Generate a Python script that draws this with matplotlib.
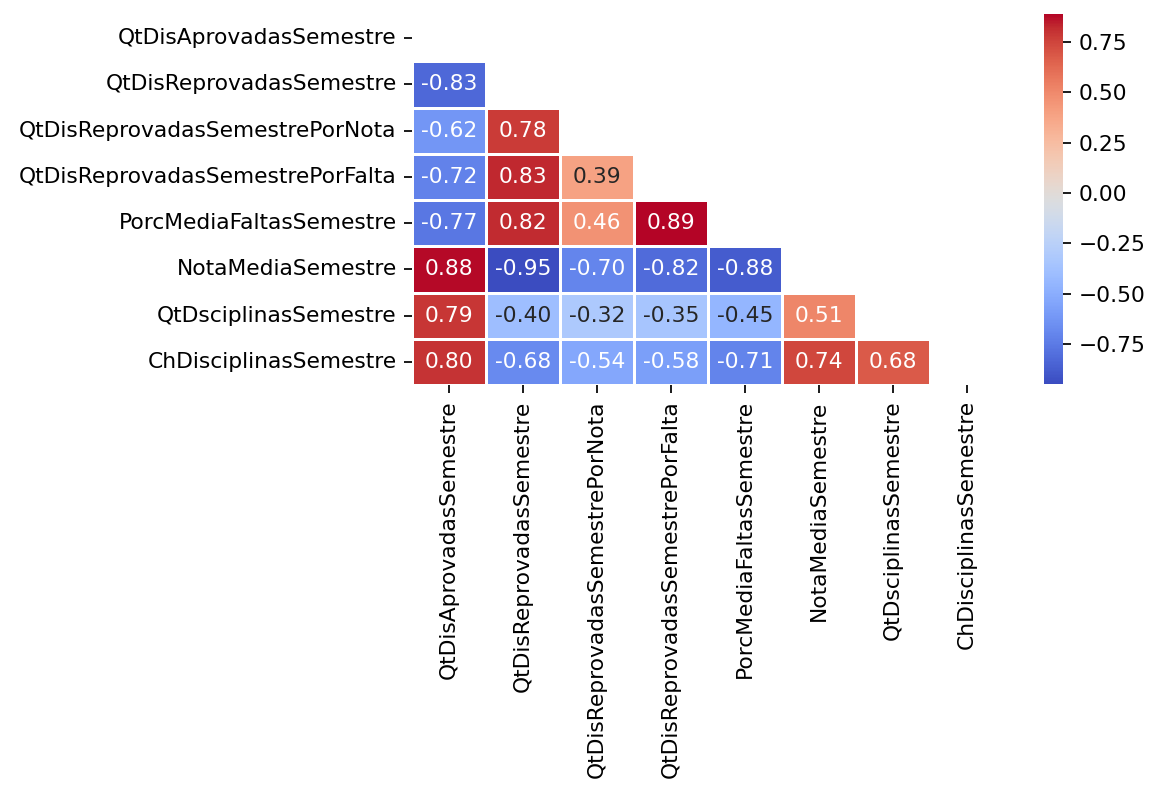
import numpy as np
import pandas as pd
import seaborn as sns
import matplotlib.pyplot as plt

cols = ['QtDisAprovadasSemestre', 'QtDisReprovadasSemestre',
        'QtDisReprovadasSemestrePorNota', 'QtDisReprovadasSemestrePorFalta',
        'PorcMediaFaltasSemestre', 'NotaMediaSemestre',
        'QtDsciplinasSemestre', 'ChDisciplinasSemestre']

# lower triangle of the correlation matrix, row by row
row1 = [-0.83]
row2 = [-0.62, 0.78]
row3 = [-0.72, 0.83, 0.39]
row4 = [-0.77, 0.82, 0.46, 0.89]
row5 = [0.88, -0.95, -0.70, -0.82, -0.88]
row6 = [0.79, -0.40, -0.32, -0.35, -0.45, 0.51]
row7 = [0.80, -0.68, -0.54, -0.58, -0.71, 0.74, 0.68]

n = len(cols)
corr = np.eye(n)
for i, r in enumerate([row1, row2, row3, row4, row5, row6, row7], start=1):
    for j, v in enumerate(r):
        corr[i, j] = v
        corr[j, i] = v
corr = pd.DataFrame(corr, index=cols, columns=cols)
mask = np.triu(np.ones_like(corr, dtype=bool))

dpi = 157
fig = plt.figure(figsize=(1152 / dpi, 785 / dpi), dpi=dpi)
ax = fig.add_axes([412 / 1152, 1 - 385 / 785, 592 / 1152, 370 / 785])
cax = fig.add_axes([1044 / 1152, 1 - 384 / 785, 19 / 1152, 370 / 785])

sns.heatmap(corr, mask=mask, annot=True, fmt='.2f', cmap='coolwarm',
            linewidths=0.5, ax=ax, cbar_ax=cax)

fig.savefig('out.png', dpi=dpi)
